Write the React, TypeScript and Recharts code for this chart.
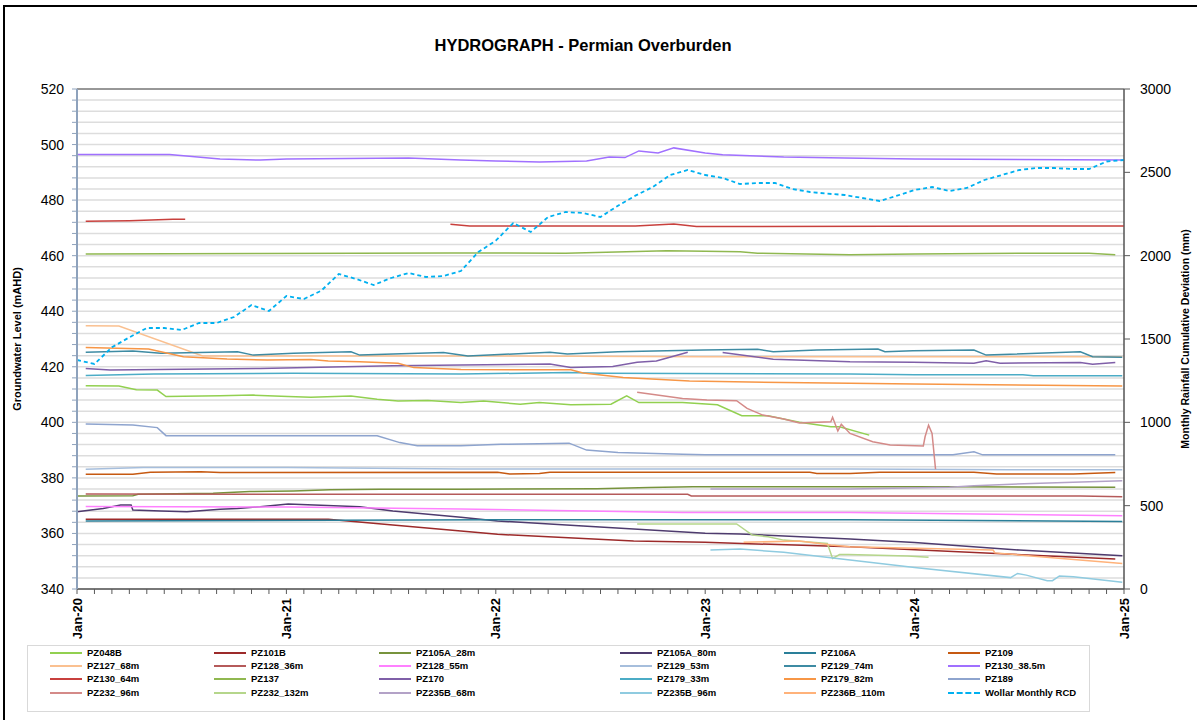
import React from "react";
import { LineChart, Line, XAxis, YAxis, CartesianGrid } from "recharts";

// months since Jan-2020 -> groundwater level (mAHD); null = gap
type Pt = [number, number | null];

const yearTicks = [0, 12, 24, 36, 48, 60];
const yearLabels = ["Jan-20", "Jan-21", "Jan-22", "Jan-23", "Jan-24", "Jan-25"];
const levelTicks = [340, 360, 380, 400, 420, 440, 460, 480, 500, 520];
const rcdTicks = [0, 500, 1000, 1500, 2000, 2500, 3000];

const pz048b: Pt[] = [[0.5, 413.2], [2.4, 413.1], [3.4, 411.7], [4.6, 411.6], [5.1, 409.3], [8.2, 409.6], [10.1, 409.8], [12.1, 409.3], [13.4, 409], [15.7, 409.5], [17.2, 408.3], [18.4, 407.7], [20.1, 407.9], [22, 407.1], [23.3, 407.7], [25.4, 406.5], [26.5, 407.1], [28.3, 406.3], [30.6, 406.5], [31.5, 409.5], [32.2, 407.1], [34.7, 407.1], [36.7, 406.3], [38.1, 402.4], [39.6, 402.4], [41.4, 400], [43.2, 398.4], [43.7, 398.4], [45.4, 395.4]];
const pz101b: Pt[] = [[0.5, 365.1], [14.4, 365.1], [18.1, 363], [22, 360.9], [24.1, 359.7], [31.9, 357.3], [36, 356.8], [44.3, 355.2], [59.5, 350.8]];
const pz105a28: Pt[] = [[0, 373.5], [3.2, 373.6], [3.5, 374.1], [7.8, 374.5], [9.9, 375.1], [12.4, 375.3], [14.5, 375.7], [17.4, 375.9], [22, 375.9], [29.8, 376.1], [32.8, 376.5], [35.3, 376.8], [44.3, 376.8], [50, 376.8], [59.5, 376.6]];
const pz105a80: Pt[] = [[0, 367.8], [1.5, 369], [2.5, 370.2], [3.1, 370.2], [3.2, 368.4], [4.8, 368.1], [6.3, 367.8], [8.2, 368.7], [9.2, 369], [10.5, 369.6], [12.1, 370.6], [16.2, 369.6], [18.1, 368.1], [22, 365.8], [24.1, 364.5], [29, 362.7], [36, 360.1], [38, 359.8], [44.3, 358], [48, 356.7], [54, 354], [59.9, 352]];
const pz106a: Pt[] = [[0.5, 364.5], [24, 364.9], [44.3, 364.9], [59.9, 364.3]];
const pz109: Pt[] = [[0.5, 381.3], [3.2, 381.3], [4.2, 382], [7.1, 382.2], [8.2, 381.9], [24.1, 382], [24.8, 381.4], [26.5, 381.6], [27.1, 382], [42, 382], [42.4, 381.6], [44.3, 381.6], [46, 382], [51.4, 382], [52.7, 381.4], [57.1, 381.4], [59.5, 381.9]];
const pz127_68: Pt[] = [[0.5, 434.8], [2.4, 434.7], [7.2, 423.9], [22, 423.9], [36, 423.6], [59.9, 423.6]];
const pz128_36: Pt[] = [[0.5, 374.2], [19, 374.1], [35, 374.1], [35.2, 373.5], [57.5, 373.5], [59.9, 373.2]];
const pz128_55: Pt[] = [[0.5, 369.7], [12.1, 369.5], [22, 368.8], [34.7, 367.5], [44.3, 367.5], [59.9, 366.4]];
const pz129_53: Pt[] = [[0.5, 383.1], [3.8, 383.7], [12.1, 383.7], [22, 383.2], [44.3, 383.2], [53.5, 382.9], [59.9, 382.9]];
const pz129_74: Pt[] = [[0.5, 425.2], [3.2, 425.7], [4.8, 424.9], [9.2, 425.4], [10.1, 424.2], [12.4, 424.9], [15.7, 425.4], [16.2, 424.2], [21, 425.1], [22.4, 423.9], [27.1, 425.2], [28.1, 424.6], [31, 425.4], [35.9, 426], [39, 426.3], [39.9, 425.4], [42.4, 426], [45.9, 426.4], [46.3, 425.4], [47.9, 425.8], [51.4, 426], [52.1, 424.2], [57.5, 425.4], [58.2, 423.6], [59.9, 423.4]];
const pz130_385: Pt[] = [[0, 496.4], [5.3, 496.4], [8.2, 494.8], [10.5, 494.4], [12, 494.8], [19, 495.2], [22, 494.4], [24, 494.1], [26.5, 493.7], [29.2, 494.1], [30.5, 495.5], [31.4, 495.3], [32.2, 497.7], [33.3, 497], [34.2, 498.8], [36, 497], [37, 496.3], [40.5, 495.5], [44, 495.2], [48, 494.8], [60, 494.4]];
const pz130_64: Pt[] = [[0.5, 472.4], [3, 472.6], [5.5, 473.1], [6.2, 473.1], [13, null], [21.4, 471.3], [22.5, 470.7], [32, 470.7], [34.2, 471.4], [35.5, 470.5], [60, 470.7]];
const pz137: Pt[] = [[0.5, 460.6], [10.5, 460.8], [21.4, 461], [28, 460.9], [33.8, 461.8], [36, 461.6], [38, 461.4], [39, 460.9], [44.3, 460.3], [48, 460.6], [54, 460.9], [58, 460.9], [59.5, 460.3]];
const pz170: Pt[] = [[0.5, 419.4], [1.9, 418.8], [10.5, 419.4], [18.1, 420.4], [22, 420.6], [27.1, 421], [28.3, 419.7], [30.7, 420.1], [32.1, 421.6], [33.2, 422.1], [35, 425.2], [36, null], [37, 425.1], [39.9, 422.7], [44.3, 421.8], [47.9, 421.6], [51.4, 421.3], [52.1, 422.2], [52.9, 421.3], [57.5, 421.5], [58.2, 420.9], [59.5, 421.5]];
const pz179_33: Pt[] = [[0.5, 416.9], [4.4, 417.4], [12.4, 417.7], [22, 417.4], [28.1, 417.9], [30, 417.7], [44.3, 417.4], [48, 417.1], [54.2, 417.1], [54.8, 416.8], [59.9, 416.8]];
const pz179_82: Pt[] = [[0.5, 426.9], [4.1, 426.4], [6.1, 423.6], [8.6, 422.8], [10.9, 422.4], [13.4, 422.6], [14.4, 422.1], [16.2, 421.8], [18.4, 421.3], [19.3, 419.7], [22, 419], [28.3, 418.9], [29, 417.8], [31.3, 416.1], [35.1, 414.9], [40.5, 414.3], [44.3, 414.1], [48, 413.8], [59.9, 413.1]];
const pz189: Pt[] = [[0.5, 399.4], [3.2, 399], [4.6, 398.1], [5.1, 395.2], [17.2, 395.2], [18.5, 392.7], [19.5, 391.6], [22, 391.6], [24.3, 392.1], [28.2, 392.5], [29.2, 390], [31, 389.1], [34.7, 388.5], [36, 388.3], [50.2, 388.3], [51.4, 389.4], [51.9, 388.3], [59.5, 388.3]];
const pz232_96: Pt[] = [[32.1, 410.8], [34.7, 408.6], [36.1, 408], [37.8, 407.8], [38.4, 405], [39.3, 402.6], [40.5, 401.2], [41.4, 399.8], [43.2, 400.2], [43.3, 401.8], [43.6, 396.9], [43.8, 399.3], [44.3, 396], [45.6, 393], [46.6, 391.8], [48.5, 391.5], [48.6, 394.8], [48.8, 399], [49, 396], [49.2, 383.1]];
const pz232_132: Pt[] = [[32.1, 363.4], [37.8, 363.4], [38.7, 359.4], [39.6, 358.8], [40.5, 357.6], [43, 356.4], [43.3, 351], [43.7, 352.4], [44.2, 352.4], [47.6, 351.9], [48.8, 351.4]];
const pz235b_68: Pt[] = [[36.3, 376], [44.3, 376], [50, 376.6], [51.4, 377.2], [55.2, 378.1], [59.9, 379]];
const pz235b_96: Pt[] = [[36.3, 354], [38, 354.4], [40.5, 353.2], [44.3, 350.4], [48, 347.7], [53.5, 344.1], [53.9, 345.6], [54.4, 345], [55.6, 343], [55.9, 343], [56.3, 344.7], [57.1, 344.4], [59.9, 342.4]];
const pz236b_110: Pt[] = [[38.2, 356.8], [41.4, 357.3], [43.2, 355.8], [44.3, 355.2], [52.5, 354], [52.6, 353], [59.9, 349.2]];

// Wollar monthly rainfall cumulative deviation (mm), Jan-20 .. Jan-25
const wollarRcd = [
  1374, 1350, 1450, 1510, 1566, 1566, 1554, 1596, 1596, 1632, 1704, 1668,
  1758, 1740, 1790, 1890, 1860, 1824, 1866, 1896, 1872, 1878, 1908, 2022,
  2090, 2196, 2142, 2232, 2262, 2256, 2232, 2300, 2360, 2412, 2484, 2514,
  2484, 2466, 2430, 2436, 2436, 2400, 2382, 2372, 2364, 2346, 2328, 2360,
  2394, 2412, 2388, 2406, 2454, 2484, 2514, 2526, 2526, 2520, 2520, 2565,
  2574,
];

const series = [
  { name: "PZ048B", color: "#92D050", pts: pz048b },
  { name: "PZ101B", color: "#9C2A2A", pts: pz101b },
  { name: "PZ105A_28m", color: "#77933C", pts: pz105a28 },
  { name: "PZ105A_80m", color: "#4E3B6E", pts: pz105a80 },
  { name: "PZ106A", color: "#2A7F99", pts: pz106a },
  { name: "PZ109", color: "#C65911", pts: pz109 },
  { name: "PZ127_68m", color: "#FAC090", pts: pz127_68 },
  { name: "PZ128_36m", color: "#B55A5A", pts: pz128_36 },
  { name: "PZ128_55m", color: "#FF80FF", pts: pz128_55 },
  { name: "PZ129_53m", color: "#A6BEDC", pts: pz129_53 },
  { name: "PZ129_74m", color: "#3E8BA3", pts: pz129_74 },
  { name: "PZ130_38.5m", color: "#A070FF", pts: pz130_385 },
  { name: "PZ130_64m", color: "#C8403D", pts: pz130_64 },
  { name: "PZ137", color: "#90B850", pts: pz137 },
  { name: "PZ170", color: "#7F5FA8", pts: pz170 },
  { name: "PZ179_33m", color: "#4BACC6", pts: pz179_33 },
  { name: "PZ179_82m", color: "#F79646", pts: pz179_82 },
  { name: "PZ189", color: "#8EA4CE", pts: pz189 },
  { name: "PZ232_96m", color: "#D48A88", pts: pz232_96 },
  { name: "PZ232_132m", color: "#B5D68B", pts: pz232_132 },
  { name: "PZ235B_68m", color: "#B3A2C7", pts: pz235b_68 },
  { name: "PZ235B_96m", color: "#8FCBE0", pts: pz235b_96 },
  { name: "PZ236B_110m", color: "#FFB27A", pts: pz236b_110 },
];

const rcdColor = "#00B0F0";
const rcdRows = wollarRcd.map((v, i) => ({ t: i, v }));

const monthTicks = Array.from({ length: 61 }, (_, i) => i);
const minorLevelTicks = Array.from({ length: 46 }, (_, i) => 340 + i * 4);

const FONT = '"Liberation Sans", Arial, sans-serif';

const XTick = (props: any) => {
  const { x, y, payload } = props;
  const idx = yearTicks.indexOf(payload.value);
  if (idx < 0) return null;
  return (
    <text
      x={x + 4.5}
      y={y}
      transform={`rotate(-90 ${x + 4.5} ${y})`}
      textAnchor="end"
      fontSize={13}
      fontWeight="bold"
      fontFamily={FONT}
      fill="#000"
    >
      {yearLabels[idx]}
    </text>
  );
};

const LeftTick = (props: any) => {
  const { x, y, payload } = props;
  if (!levelTicks.includes(payload.value)) return null;
  return (
    <text x={x} y={y + 5} textAnchor="end" fontSize={14} fontFamily={FONT} fill="#000">
      {payload.value}
    </text>
  );
};

// legend layout (Excel style, 6 columns x 4 rows)
const legendCols = [50, 214, 379, 620, 784, 948];
const legendRows = [653, 666, 679, 693];

const App = () => {
  const legendItems = [
    ...series.map((s) => ({ name: s.name, color: s.color, dashed: false })),
    { name: "Wollar Monthly RCD", color: rcdColor, dashed: true },
  ];

  return (
    <div
      style={{
        position: "absolute",
        left: 0,
        top: 0,
        width: 1197,
        height: 720,
        background: "#fff",
        overflow: "hidden",
        fontFamily: FONT,
      }}
    >
      <div
        style={{
          position: "absolute",
          left: 3,
          top: 5,
          width: 1300,
          height: 800,
          borderLeft: "2px solid #000",
          borderTop: "2px solid #000",
        }}
      />
      <div
        style={{
          position: "absolute",
          left: 0,
          top: 36,
          width: 1166,
          textAlign: "center",
          fontSize: 16.5,
          fontWeight: "bold",
          color: "#000",
        }}
      >
        HYDROGRAPH - Permian Overburden
      </div>

      <div style={{ position: "absolute", left: 0, top: 0 }}>
        <LineChart width={1197} height={720} margin={{ top: 89, right: 0, bottom: 81, left: 0 }}>
          <XAxis
            xAxisId="x"
            type="number"
            dataKey="t"
            domain={[0, 60]}
            ticks={monthTicks}
            interval={0}
            allowDataOverflow
            tick={<XTick />}
            tickSize={5}
            tickMargin={4}
            height={50}
            stroke="#595959"
          />
          <XAxis xAxisId="xmaj" type="number" dataKey="t" domain={[0, 60]} ticks={yearTicks} hide />
          <YAxis
            yAxisId="l"
            type="number"
            domain={[340, 520]}
            ticks={minorLevelTicks}
            interval={0}
            allowDataOverflow
            width={77}
            tick={<LeftTick />}
            tickSize={5}
            tickMargin={8}
            axisLine={{ stroke: "#8EA2BC", strokeWidth: 2 }}
            tickLine={{ stroke: "#8EA2BC" }}
            label={{
              value: "Groundwater Level (mAHD)",
              angle: -90,
              position: "insideLeft",
              offset: 17,
              style: { textAnchor: "middle", fontSize: 11, fontWeight: "bold", fill: "#000", fontFamily: FONT },
            }}
          />
          <YAxis yAxisId="lmaj" type="number" domain={[340, 520]} ticks={levelTicks} hide />
          <YAxis
            yAxisId="r"
            orientation="right"
            type="number"
            domain={[0, 3000]}
            ticks={rcdTicks}
            interval={0}
            width={73}
            tickSize={6}
            tickMargin={10}
            stroke="#595959"
            tick={{ fontSize: 14, fill: "#000", fontFamily: FONT, textAnchor: "start" }}
            label={{
              value: "Monthly Rainfall Cumulative Deviation (mm)",
              angle: -90,
              position: "insideRight",
              offset: 12,
              style: { textAnchor: "middle", fontSize: 10.5, fontWeight: "bold", fill: "#000", fontFamily: FONT },
            }}
          />
          <CartesianGrid xAxisId="x" yAxisId="l" vertical={false} stroke="#DDDDDD" strokeWidth={1.5} />
          <CartesianGrid xAxisId="xmaj" yAxisId="lmaj" stroke="#4A4A4A" strokeWidth={1} />

          {series.map((s) => (
            <Line
              key={s.name}
              name={s.name}
              xAxisId="x"
              yAxisId="l"
              data={s.pts.map(([t, v]) => ({ t, v }))}
              dataKey="v"
              type="linear"
              stroke={s.color}
              strokeWidth={1.5}
              dot={false}
              activeDot={false}
              connectNulls={false}
              isAnimationActive={false}
            />
          ))}
          <Line
            name="Wollar Monthly RCD"
            xAxisId="x"
            yAxisId="r"
            data={rcdRows}
            dataKey="v"
            type="linear"
            stroke={rcdColor}
            strokeWidth={1.8}
            strokeDasharray="4 3"
            dot={false}
            activeDot={false}
            isAnimationActive={false}
          />
        </LineChart>
      </div>

      <div
        style={{
          position: "absolute",
          left: 27,
          top: 645,
          width: 1063,
          height: 67,
          border: "1px solid #D9D9D9",
          boxSizing: "border-box",
        }}
      />
      {legendItems.map((item, i) => {
        const col = i % 6;
        const row = Math.floor(i / 6);
        const lx = legendCols[col];
        const ly = legendRows[row];
        return (
          <div key={item.name}>
            <div
              style={{
                position: "absolute",
                left: lx,
                top: ly - 1,
                width: 32,
                height: 0,
                borderTop: `2px ${item.dashed ? "dashed" : "solid"} ${item.color}`,
              }}
            />
            <div
              style={{
                position: "absolute",
                left: lx + 37,
                top: ly - 6,
                fontSize: 9.5,
                fontWeight: "bold",
                lineHeight: "12px",
                color: "#000",
                whiteSpace: "nowrap",
              }}
            >
              {item.name}
            </div>
          </div>
        );
      })}
    </div>
  );
};

export default App;
